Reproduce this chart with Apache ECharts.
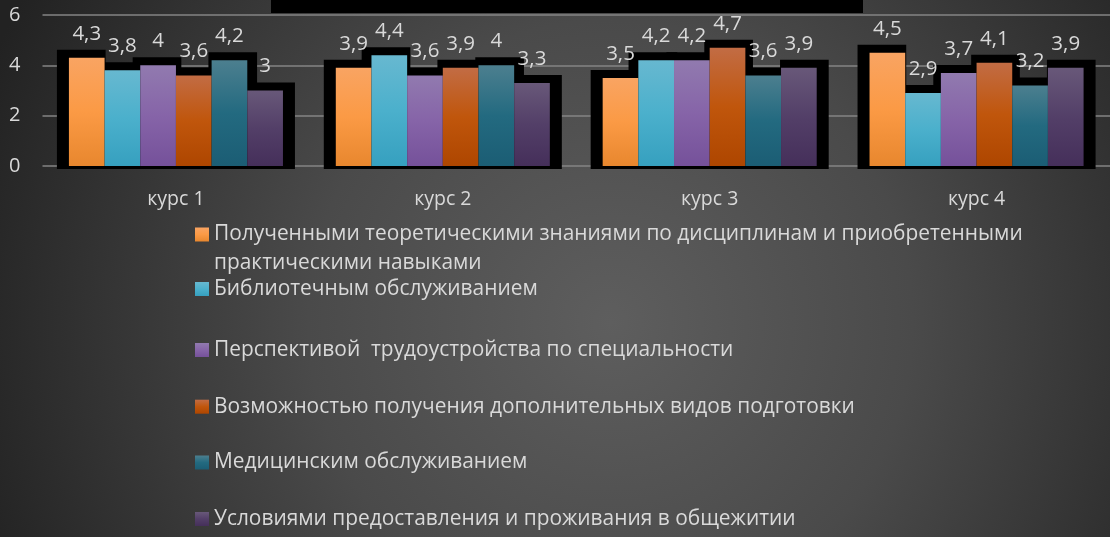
<!DOCTYPE html>
<html>
<head>
<meta charset="utf-8">
<script src="https://cdn.jsdelivr.net/npm/echarts@6/dist/echarts.min.js"></script>
<style>html,body{margin:0;padding:0;background:#333;}#c{width:1110px;height:537px;}</style>
</head>
<body>
<div id="c"></div>
<script>
const categories = ['курс 1', 'курс 2', 'курс 3', 'курс 4'];
const seriesNames = [
  'Полученными теоретическими знаниями по дисциплинам и приобретенными практическими навыками',
  'Библиотечным обслуживанием',
  'Перспективой  трудоустройства по специальности',
  'Возможностью получения дополнительных видов подготовки',
  'Медицинским обслуживанием',
  'Условиями предоставления и проживания в общежитии'
];
const firstNameLines = ['Полученными теоретическими знаниями по дисциплинам и приобретенными', 'практическими навыками'];
const knowledge = [4.3, 3.9, 3.5, 4.5];
const library = [3.8, 4.4, 4.2, 2.9];
const employment = [4, 3.6, 4.2, 3.7];
const extraTraining = [3.6, 3.9, 4.7, 4.1];
const medical = [4.2, 4, 3.6, 3.2];
const dormitory = [3, 3.3, 3.9, 3.9];
const yTicks = [0, 2, 4, 6];

const seriesValues = [knowledge, library, employment, extraTraining, medical, dormitory];
const gradients = [
  ['#f9a462', '#fb9a45', '#e8872e'],
  ['#67b8d0', '#4bb0cc', '#36a0bf'],
  ['#917aaf', '#8664a8', '#75519a'],
  ['#c26c44', '#c0560c', '#ae4600'],
  ['#4c7f8f', '#236a80', '#1b5d74'],
  ['#685879', '#533f68', '#452f5a']
];
const GAP = 0.198;
const FONT = 'Open Sans';
const TXT = '#d9d9d9';

function grad(c) {
  return new echarts.graphic.LinearGradient(0, 0, 0, 1, [
    {offset: 0, color: c[0]}, {offset: 0.5, color: c[1]}, {offset: 1, color: c[2]}
  ]);
}

const shadowData = [];
categories.forEach((_, c) => seriesValues.forEach((vals, i) => shadowData.push([c, i, vals[c]])));

const series = [{
  type: 'custom',
  z: 1,
  silent: true,
  data: shadowData,
  encode: {x: 0, y: 2},
  renderItem: function (params, api) {
    const c = api.value(0), i = api.value(1), v = api.value(2);
    const base = api.coord([c, 0]);
    const top = api.coord([c, v]);
    const band = api.size([1, 0])[0];
    const group = band * (1 - GAP);
    const bw = group / 6;
    const left = base[0] - group / 2 + i * bw;
    const shift = (i - 2.5) * 2.2;
    return {
      type: 'rect',
      shape: {x: left - 6.5 + shift, y: top[1] - 8, width: bw + 13, height: base[1] + 3 - (top[1] - 8)},
      style: {fill: '#000'}
    };
  }
}];
seriesValues.forEach((vals, i) => {
  series.push({
    name: seriesNames[i],
    type: 'bar',
    z: 2,
    data: vals,
    barGap: '0%',
    barCategoryGap: (GAP * 100) + '%',
    itemStyle: {color: grad(gradients[i])},
    label: {
      show: true, position: 'top', distance: 14,
      color: TXT, fontFamily: FONT, fontSize: 20.5, lineHeight: 20,
      formatter: p => String(p.value).replace('.', ',')
    }
  });
});

const legendCenters = [234.5, 289, 350, 406.7, 462.5, 519];
const legends = seriesNames.map((n, i) => ({
  data: [n],
  orient: 'vertical',
  left: 195,
  top: legendCenters[i] - 13.5,
  padding: 0,
  itemGap: 0,
  itemWidth: 14,
  itemHeight: 14,
  icon: 'rect',
  selectedMode: false,
  formatter: i === 0 ? firstNameLines[0] : '{name}',
  textStyle: {color: TXT, fontFamily: FONT, fontSize: 20.9, lineHeight: 27}
}));

const chart = echarts.init(document.getElementById('c'));
chart.setOption({
  backgroundColor: {
    type: 'radial', x: 0.55, y: 0.6, r: 1.25,
    colorStops: [{offset: 0, color: '#5e5e5e'}, {offset: 0.45, color: '#4a4a4a'}, {offset: 1, color: '#222222'}]
  },
  animation: false,
  graphic: [
    {type: 'rect', left: 271, top: 0, shape: {width: 592, height: 13}, style: {fill: '#000'}},
    {type: 'text', left: 214, top: legendCenters[0] + 28.5 - 13.5,
     style: {text: firstNameLines[1], fill: TXT, font: '20.9px "Open Sans"', lineHeight: 27}}
  ],
  grid: {left: 42.5, right: -4.5, top: 15, bottom: 537 - 166},
  xAxis: {
    type: 'category', data: categories,
    axisLine: {show: false}, axisTick: {show: false},
    axisLabel: {color: TXT, fontFamily: FONT, fontSize: 19.5, margin: 23}
  },
  yAxis: {
    type: 'value', min: yTicks[0], max: yTicks[yTicks.length - 1], interval: 2,
    axisLine: {show: false}, axisTick: {show: false},
    axisLabel: {color: TXT, fontFamily: FONT, fontSize: 20, margin: 22},
    splitLine: {lineStyle: {color: '#858585', width: 1.5}}
  },
  legend: legends,
  series: series
});
</script>
</body>
</html>
